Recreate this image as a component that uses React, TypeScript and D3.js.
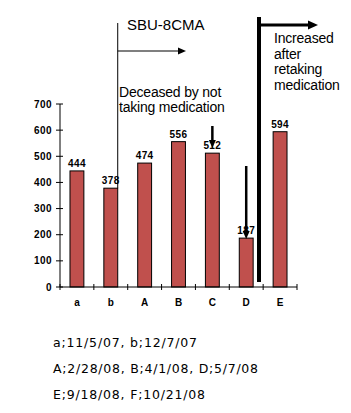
import * as d3 from "d3";
import React, { useRef, useEffect } from "react";

const categories = ["a", "b", "A", "B", "C", "D", "E"];
const values = [444, 378, 474, 556, 512, 187, 594];
const yTicks = [0, 100, 200, 300, 400, 500, 600, 700];
const footnotes = [
  "a;11/5/07, b;12/7/07",
  "A;2/28/08, B;4/1/08, D;5/7/08",
  "E;9/18/08, F;10/21/08",
];
const footWidths = [144, 205, 152];

const W = 351;
const H = 413;
const left = 60;
const right = 297;
const top = 104;
const bottom = 287;
const barColor = "#c0504d";
const font = "Arial, 'Liberation Sans', sans-serif";

function App() {
  const ref = useRef<SVGSVGElement>(null);

  useEffect(() => {
    const svg = d3.select(ref.current);
    svg.selectAll("*").remove();
    svg.attr("width", W).attr("height", H);

    const x = d3.scaleBand().domain(categories).range([left, right]).paddingInner(0.59).paddingOuter(0.295);
    const band = (right - left) / categories.length;
    const y = d3.scaleLinear().domain([0, 700]).range([bottom, top]);

    // bars
    svg
      .append("g")
      .selectAll("rect")
      .data(values)
      .join("rect")
      .attr("x", (d, i) => x(categories[i]))
      .attr("y", (d) => y(d))
      .attr("width", x.bandwidth())
      .attr("height", (d) => bottom - y(d))
      .attr("fill", barColor)
      .attr("stroke", "#000")
      .attr("stroke-width", 1);

    // value labels
    svg
      .append("g")
      .selectAll("text")
      .data(values)
      .join("text")
      .attr("x", (d, i) => x(categories[i]) + x.bandwidth() / 2)
      .attr("y", (d) => y(d) - 4)
      .attr("text-anchor", "middle")
      .attr("font-family", font)
      .attr("font-weight", "bold")
      .attr("font-size", 10)
      .attr("letter-spacing", 0.4)
      .text((d) => d);

    // y axis
    const ya = svg.append("g");
    ya.append("line").attr("x1", left).attr("x2", left).attr("y1", top).attr("y2", bottom).attr("stroke", "#000");
    yTicks.forEach((t) => {
      ya.append("line").attr("x1", left - 4).attr("x2", left + 3).attr("y1", y(t)).attr("y2", y(t)).attr("stroke", "#000");
      ya.append("text")
        .attr("x", left - 8)
        .attr("y", y(t) + 3.5)
        .attr("text-anchor", "end")
        .attr("font-family", font)
        .attr("font-weight", "bold")
        .attr("font-size", 10)
        .attr("letter-spacing", 0.4)
        .text(t);
    });

    // x axis
    const xa = svg.append("g");
    xa.append("line").attr("x1", left).attr("x2", right).attr("y1", bottom).attr("y2", bottom).attr("stroke", "#000");
    d3.range(categories.length + 1).forEach((i) => {
      const tx = left + i * band;
      xa.append("line").attr("x1", tx).attr("x2", tx).attr("y1", bottom - 3).attr("y2", bottom + 3).attr("stroke", "#000");
    });
    categories.forEach((c) => {
      xa.append("text")
        .attr("x", x(c) + x.bandwidth() / 2)
        .attr("y", 306)
        .attr("text-anchor", "middle")
        .attr("font-family", font)
        .attr("font-weight", "bold")
        .attr("font-size", 10)
        .text(c);
    });

    const arrowHead = (tipX, tipY, dir, len, half) => {
      let pts;
      if (dir === "right") pts = [[tipX, tipY], [tipX - len, tipY - half], [tipX - len, tipY + half]];
      else pts = [[tipX, tipY], [tipX - half, tipY - len], [tipX + half, tipY - len]];
      svg.append("polygon").attr("points", pts.map((p) => p.join(",")).join(" ")).attr("fill", "#000");
    };

    // SBU-8CMA marker
    const thinX = x("b") + x.bandwidth();
    svg.append("line").attr("x1", thinX).attr("x2", thinX).attr("y1", 23).attr("y2", y(378)).attr("stroke", "#000");
    svg.append("line").attr("x1", thinX).attr("x2", 180).attr("y1", 51).attr("y2", 51).attr("stroke", "#000").attr("stroke-width", 1.2);
    arrowHead(186, 51, "right", 8, 3.5);
    svg.append("text").attr("x", 127).attr("y", 30).attr("font-family", font).attr("font-size", 15).text("SBU-8CMA");
    svg.append("text").attr("x", 119).attr("y", 97).attr("font-family", font).attr("font-size", 14).attr("letter-spacing", -0.2).text("Deceased by not");
    svg.append("text").attr("x", 119).attr("y", 112).attr("font-family", font).attr("font-size", 14).attr("letter-spacing", -0.2).text("taking medication");

    // drop arrows over C and D
    const cx = x("C") + x.bandwidth() / 2;
    svg.append("line").attr("x1", cx).attr("x2", cx).attr("y1", 126).attr("y2", 142).attr("stroke", "#000").attr("stroke-width", 2.5);
    arrowHead(cx, 148, "down", 8, 3.5);
    const dx = x("D") + x.bandwidth() / 2;
    svg.append("line").attr("x1", dx).attr("x2", dx).attr("y1", 166).attr("y2", 234).attr("stroke", "#000").attr("stroke-width", 2.5);
    arrowHead(dx, y(187) + 1, "down", 8, 3.5);

    // retaking marker
    const thickX = 259;
    svg.append("line").attr("x1", thickX).attr("x2", thickX).attr("y1", 17).attr("y2", 282).attr("stroke", "#000").attr("stroke-width", 4);
    svg.append("line").attr("x1", thickX).attr("x2", 309).attr("y1", 25).attr("y2", 25).attr("stroke", "#000").attr("stroke-width", 3);
    arrowHead(318, 25, "right", 10, 4.5);
    ["Increased", "after", "retaking", "medication"].forEach((s, i) => {
      svg.append("text").attr("x", 274).attr("y", 43 + i * 15.7).attr("font-family", font).attr("font-size", 14).attr("letter-spacing", -0.2).text(s);
    });

    // footnotes
    footnotes.forEach((s, i) => {
      svg.append("text")
        .attr("x", 53)
        .attr("y", 347 + i * 26)
        .attr("font-family", "'DejaVu Sans', sans-serif")
        .attr("font-size", 12.5)
        .attr("textLength", footWidths[i])
        .attr("lengthAdjust", "spacing")
        .text(s);
    });
  }, []);

  return (
    <div style={{ position: "absolute", left: 0, top: 0, background: "#fff" }}>
      <svg ref={ref}></svg>
    </div>
  );
}

export default App;
